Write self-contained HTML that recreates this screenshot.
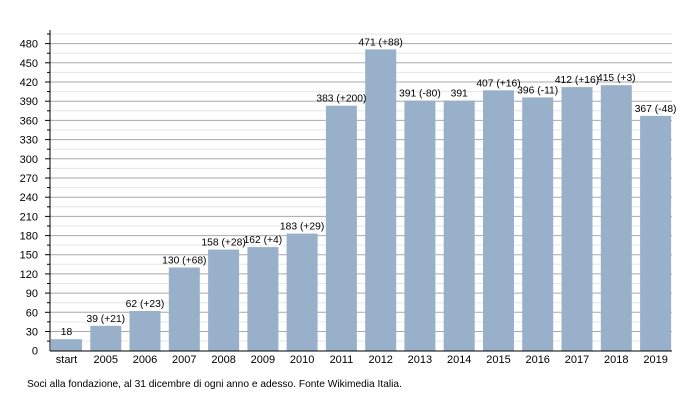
<!DOCTYPE html>
<html><head><style>body{margin:0;background:#fff}</style></head><body>
<svg width="700" height="400" xmlns="http://www.w3.org/2000/svg" font-family="Liberation Sans, sans-serif" font-size="11">
<g stroke="#e6e6e6">
<line x1="50" x2="672" y1="341.1" y2="341.1"/><line x1="50" x2="672" y1="321.9" y2="321.9"/><line x1="50" x2="672" y1="302.7" y2="302.7"/><line x1="50" x2="672" y1="283.5" y2="283.5"/><line x1="50" x2="672" y1="264.3" y2="264.3"/><line x1="50" x2="672" y1="245.1" y2="245.1"/><line x1="50" x2="672" y1="226" y2="226"/><line x1="50" x2="672" y1="206.8" y2="206.8"/><line x1="50" x2="672" y1="187.6" y2="187.6"/><line x1="50" x2="672" y1="168.4" y2="168.4"/><line x1="50" x2="672" y1="149.2" y2="149.2"/><line x1="50" x2="672" y1="130" y2="130"/><line x1="50" x2="672" y1="110.8" y2="110.8"/><line x1="50" x2="672" y1="91.6" y2="91.6"/><line x1="50" x2="672" y1="72.4" y2="72.4"/><line x1="50" x2="672" y1="53.2" y2="53.2"/><line x1="50" x2="672" y1="34" y2="34"/>
</g>
<g stroke="#a8a8a8">
<line x1="50" x2="672" y1="331.5" y2="331.5"/><line x1="50" x2="672" y1="312.3" y2="312.3"/><line x1="50" x2="672" y1="293.1" y2="293.1"/><line x1="50" x2="672" y1="273.9" y2="273.9"/><line x1="50" x2="672" y1="254.7" y2="254.7"/><line x1="50" x2="672" y1="235.6" y2="235.6"/><line x1="50" x2="672" y1="216.4" y2="216.4"/><line x1="50" x2="672" y1="197.2" y2="197.2"/><line x1="50" x2="672" y1="178" y2="178"/><line x1="50" x2="672" y1="158.8" y2="158.8"/><line x1="50" x2="672" y1="139.6" y2="139.6"/><line x1="50" x2="672" y1="120.4" y2="120.4"/><line x1="50" x2="672" y1="101.2" y2="101.2"/><line x1="50" x2="672" y1="82" y2="82"/><line x1="50" x2="672" y1="62.8" y2="62.8"/><line x1="50" x2="672" y1="43.6" y2="43.6"/>
</g>
<g stroke="#000">
<line x1="47" x2="50" y1="341.1" y2="341.1"/><line x1="47" x2="50" y1="321.9" y2="321.9"/><line x1="47" x2="50" y1="302.7" y2="302.7"/><line x1="47" x2="50" y1="283.5" y2="283.5"/><line x1="47" x2="50" y1="264.3" y2="264.3"/><line x1="47" x2="50" y1="245.1" y2="245.1"/><line x1="47" x2="50" y1="226" y2="226"/><line x1="47" x2="50" y1="206.8" y2="206.8"/><line x1="47" x2="50" y1="187.6" y2="187.6"/><line x1="47" x2="50" y1="168.4" y2="168.4"/><line x1="47" x2="50" y1="149.2" y2="149.2"/><line x1="47" x2="50" y1="130" y2="130"/><line x1="47" x2="50" y1="110.8" y2="110.8"/><line x1="47" x2="50" y1="91.6" y2="91.6"/><line x1="47" x2="50" y1="72.4" y2="72.4"/><line x1="47" x2="50" y1="53.2" y2="53.2"/><line x1="47" x2="50" y1="34" y2="34"/>
<line x1="45" x2="50" y1="331.5" y2="331.5"/><line x1="45" x2="50" y1="312.3" y2="312.3"/><line x1="45" x2="50" y1="293.1" y2="293.1"/><line x1="45" x2="50" y1="273.9" y2="273.9"/><line x1="45" x2="50" y1="254.7" y2="254.7"/><line x1="45" x2="50" y1="235.6" y2="235.6"/><line x1="45" x2="50" y1="216.4" y2="216.4"/><line x1="45" x2="50" y1="197.2" y2="197.2"/><line x1="45" x2="50" y1="178" y2="178"/><line x1="45" x2="50" y1="158.8" y2="158.8"/><line x1="45" x2="50" y1="139.6" y2="139.6"/><line x1="45" x2="50" y1="120.4" y2="120.4"/><line x1="45" x2="50" y1="101.2" y2="101.2"/><line x1="45" x2="50" y1="82" y2="82"/><line x1="45" x2="50" y1="62.8" y2="62.8"/><line x1="45" x2="50" y1="43.6" y2="43.6"/>
</g>
<g text-anchor="end">
<text x="38" y="354.7">0</text><text x="38" y="335.5">30</text><text x="38" y="316.3">60</text><text x="38" y="297.1">90</text><text x="38" y="277.9">120</text><text x="38" y="258.7">150</text><text x="38" y="239.6">180</text><text x="38" y="220.4">210</text><text x="38" y="201.2">240</text><text x="38" y="182">270</text><text x="38" y="162.8">300</text><text x="38" y="143.6">330</text><text x="38" y="124.4">360</text><text x="38" y="105.2">390</text><text x="38" y="86">420</text><text x="38" y="66.8">450</text><text x="38" y="47.6">480</text>
</g>
<g fill="#98b0c9">
<rect x="51" y="339.2" width="31" height="11.5"/>
<rect x="90.3" y="325.8" width="31" height="24.9"/>
<rect x="129.5" y="311" width="31" height="39.7"/>
<rect x="168.8" y="267.5" width="31" height="83.2"/>
<rect x="208.1" y="249.6" width="31" height="101.1"/>
<rect x="247.4" y="247.1" width="31" height="103.6"/>
<rect x="286.6" y="233.6" width="31" height="117.1"/>
<rect x="325.9" y="105.7" width="31" height="245"/>
<rect x="365.2" y="49.4" width="31" height="301.3"/>
<rect x="404.4" y="100.6" width="31" height="250.1"/>
<rect x="443.7" y="100.6" width="31" height="250.1"/>
<rect x="483" y="90.3" width="31" height="260.4"/>
<rect x="522.2" y="97.4" width="31" height="253.3"/>
<rect x="561.5" y="87.1" width="31" height="263.6"/>
<rect x="600.8" y="85.2" width="31" height="265.5"/>
<rect x="640.1" y="115.9" width="31" height="234.8"/>
</g>
<g text-anchor="middle" font-size="10.3">
<text x="66.5" y="335.2">18</text>
<text x="105.8" y="321.8">39 (+21)</text>
<text x="145" y="307">62 (+23)</text>
<text x="184.3" y="263.5">130 (+68)</text>
<text x="223.6" y="245.6">158 (+28)</text>
<text x="262.9" y="243.1">162 (+4)</text>
<text x="302.1" y="229.6">183 (+29)</text>
<text x="341.4" y="101.7">383 (+200)</text>
<text x="380.7" y="45.4">471 (+88)</text>
<text x="419.9" y="96.6">391 (-80)</text>
<text x="459.2" y="96.6">391</text>
<text x="498.5" y="86.3">407 (+16)</text>
<text x="537.7" y="93.4">396 (-11)</text>
<text x="577" y="83.1">412 (+16)</text>
<text x="616.3" y="81.2">415 (+3)</text>
<text x="655.6" y="111.9">367 (-48)</text>
</g>
<g text-anchor="middle">
<text x="66.5" y="363">start</text><text x="105.8" y="363">2005</text><text x="145" y="363">2006</text><text x="184.3" y="363">2007</text><text x="223.6" y="363">2008</text><text x="262.9" y="363">2009</text><text x="302.1" y="363">2010</text><text x="341.4" y="363">2011</text><text x="380.7" y="363">2012</text><text x="419.9" y="363">2013</text><text x="459.2" y="363">2014</text><text x="498.5" y="363">2015</text><text x="537.7" y="363">2016</text><text x="577" y="363">2017</text><text x="616.3" y="363">2018</text><text x="655.6" y="363">2019</text>
</g>
<line x1="50" x2="50" y1="30" y2="351" stroke="#000"/>
<line x1="50" x2="672" y1="351" y2="351" stroke="#000"/>
<text x="27" y="387" font-size="10.2">Soci alla fondazione, al 31 dicembre di ogni anno e adesso. Fonte Wikimedia Italia.</text>
</svg>
</body></html>
